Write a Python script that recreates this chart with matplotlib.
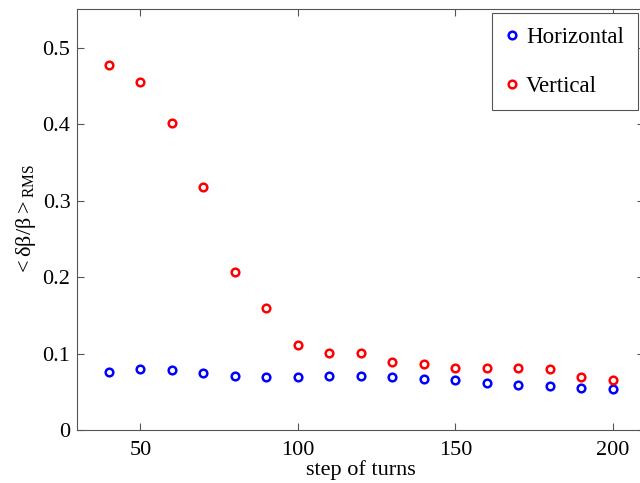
import matplotlib
matplotlib.use("Agg")
import matplotlib.pyplot as plt

steps = [40, 50, 60, 70, 80, 90, 100, 110, 120, 130, 140, 150, 160, 170, 180, 190, 200]
horizontal = [0.0761, 0.0792, 0.0783, 0.0740, 0.0705, 0.0692, 0.0692, 0.0709, 0.0709,
              0.0692, 0.0666, 0.0648, 0.0614, 0.0583, 0.0574, 0.0553, 0.0535]
vertical = [0.4774, 0.4547, 0.4020, 0.3180, 0.2067, 0.1590, 0.1106, 0.1010, 0.1010,
            0.0888, 0.0866, 0.0814, 0.0814, 0.0814, 0.0796, 0.0696, 0.0657]
xticks = [50, 100, 150, 200]
yticks = [0, 0.1, 0.2, 0.3, 0.4, 0.5]
ytick_labels = ["0", "0.1", "0.2", "0.3", "0.4", "0.5"]

plt.rcParams['font.family'] = ['Liberation Serif', 'DejaVu Serif']
plt.rcParams['mathtext.fontset'] = 'custom'
plt.rcParams['mathtext.rm'] = 'Liberation Serif'
plt.rcParams['mathtext.it'] = 'Liberation Serif'

fig = plt.figure(figsize=(6.4, 4.83), dpi=100)
ax = fig.add_axes([0.121, 0.1097, 0.886, 0.871])

ms = 5.5
mew = 1.8
ax.plot(steps, horizontal, linestyle='none', marker='o', markersize=ms,
        markerfacecolor='none', markeredgecolor='#0000ff', markeredgewidth=mew,
        label='Horizontal')
ax.plot(steps, vertical, linestyle='none', marker='o', markersize=ms,
        markerfacecolor='none', markeredgecolor='#ff0000', markeredgewidth=mew,
        label='Vertical')

ax.set_xlim(30, 210)
ax.set_ylim(0, 0.55)
ax.set_xticks(xticks)
ax.set_yticks(yticks)
ax.set_yticklabels(ytick_labels)

gray = '#555555'
for s in ax.spines.values():
    s.set_color(gray)
    s.set_linewidth(0.8)
ax.tick_params(direction='in', top=True, right=True, length=5, width=0.8,
               color=gray, labelsize=16, labelcolor='black')
ax.tick_params(axis='x', pad=8)
ax.tick_params(axis='y', pad=5)

ax.set_xlabel('step of turns', fontsize=16, labelpad=0)
ax.set_ylabel(r'$<\delta\beta/\beta>_{\mathrm{RMS}}$', fontsize=16, labelpad=3)

leg = ax.legend(loc='upper right', bbox_to_anchor=(637.7 / 640, 1 - 13.3 / 483),
                bbox_transform=fig.transFigure, fontsize=16.5, frameon=True,
                fancybox=False, edgecolor=gray, framealpha=1, labelspacing=1.2,
                handlelength=0.6, handletextpad=0.3, borderpad=0.6, borderaxespad=0)
leg.get_frame().set_linewidth(0.8)

fig.savefig('out.png', dpi=100)
